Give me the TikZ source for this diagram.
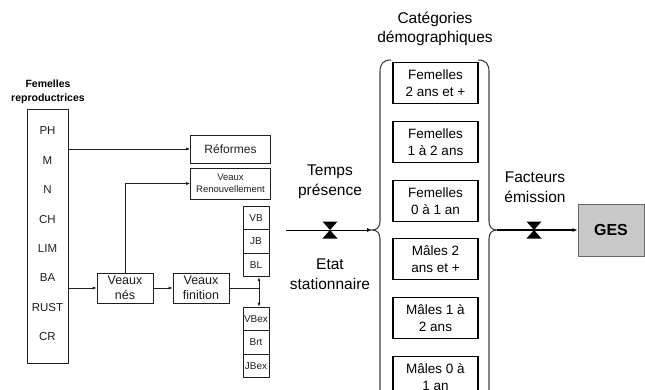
\documentclass[tikz,border=0pt]{standalone}
\usepackage{fontspec}
\setmainfont{Liberation Sans}
\usetikzlibrary{arrows.meta}
\definecolor{gesfill}{RGB}{200,200,200}
\definecolor{ink}{RGB}{30,30,30}
\begin{document}
\begin{tikzpicture}[x=1pt,y=-1pt,
  box/.style={draw=ink, line width=0.7pt, inner sep=0pt, align=center, text=ink},
  cell/.style={box, minimum width=26pt, minimum height=23.6pt, font=\fontsize{10}{12}\selectfont},
  cat/.style={draw=black, line width=1.1pt, minimum width=85pt, minimum height=41pt, inner sep=0pt, align=center, font=\fontsize{13.5}{17}\selectfont},
  lbl/.style={align=center, font=\fontsize{15.5}{19.5}\selectfont, inner sep=0pt},
  flbl/.style={inner sep=0pt, font=\fontsize{11.5}{13}\selectfont, text=ink},
  arr/.style={-{Latex[length=4pt,width=3pt]}, line width=0.7pt, draw=ink},
  bigarr/.style={-{Latex[length=5pt,width=4pt]}, line width=1.2pt},
  brace/.style={draw=black!75, line width=1.1pt},
  valve/.style={fill=black}
]
\useasboundingbox (0,0) rectangle (645,389);
\clip (0,0) rectangle (645,389);

% Femelles reproductrices
\node[inner sep=0pt, font=\bfseries\fontsize{10.5}{14}\selectfont, align=center] (femt) at (48,92) {Femelles\\reproductrices};
\node[box, minimum width=41pt, minimum height=254pt] (fem) at (47.5,236) {};
\foreach \t [count=\i from 0] in {PH,M,N,CH,LIM,BA,RUST,CR}
  \node[flbl] (f\i) at (47.5,{131+29.4*\i}) {\t};

% calves
\node[box, minimum width=80pt, minimum height=28pt, font=\fontsize{12}{14}\selectfont] (ref) at (230.5,149) {Réformes};
\node[box, minimum width=80pt, minimum height=31pt, font=\fontsize{9.5}{12}\selectfont] (ren) at (230.5,183.5) {Veaux\\Renouvellement};
\node[box, minimum width=56pt, minimum height=30pt, font=\fontsize{12.5}{15}\selectfont] (nes) at (125,288) {Veaux\\nés};
\node[box, minimum width=56pt, minimum height=30pt, font=\fontsize{12.5}{15}\selectfont] (fin) at (201,288) {Veaux\\finition};

\node[cell] (vb) at (256,218) {VB};
\node[cell] (jb) at (256,241.5) {JB};
\node[cell] (bl) at (256,265) {BL};
\node[cell] (vbex) at (256,318.8) {VBex};
\node[cell] (brt) at (256,342.4) {Brt};
\node[cell] (jbex) at (256,366) {JBex};

\draw[arr] (fem.east |- ref.west) -- (ref.west);
\draw[arr] (fem.east |- nes.west) -- (nes.west);
\draw[arr] (nes.north) |- (ren.west);
\draw[arr] (nes.east) -- (fin.west);
\coordinate (j) at (259,288);
\draw[line width=0.7pt, draw=ink] (fin.east) -- (j);
\draw[arr] (j) -- (j |- bl.south);
\draw[arr] (j) -- (j |- vbex.north);

% middle arrow with valve
\coordinate (s1) at (286,230);
\coordinate (lc) at (372,230);
\draw[bigarr, line width=1pt] (s1) -- (lc);
\coordinate (v1) at (330,230);
\fill[valve] (v1) ++(-7.5,-8.5) -- ++(15,0) -- ++(-15,17) -- ++(15,0) -- cycle;
\node[lbl] (temps) at (330,182) {Temps\\présence};
\node[lbl] (etat) at (330,274) {Etat\\stationnaire};

% categories
\node[lbl] (catt) at (435,29) {Catégories\\démographiques};
\node[cat] (c1) at (435.5,83) {Femelles\\2 ans et +};
\node[cat] (c2) at (435.5,142) {Femelles\\1 à 2 ans};
\node[cat] (c3) at (435.5,201) {Femelles\\0 à 1 an};
\node[cat] (c4) at (435.5,259) {Mâles 2\\ans et +};
\node[cat] (c5) at (435.5,318) {Mâles 1 à\\2 ans};
\node[cat] (c6) at (435.5,377) {Mâles 0 à\\1 an};

% braces
\draw[brace] (391,60) .. controls (383,60) and (380,64) .. (380,72) -- (380,221)
  .. controls (380,227) and (377,230) .. (372,230) .. controls (377,230) and (380,233) .. (380,239) -- (380,400);
\coordinate (rc) at (497,230);
\draw[brace] (478,60) .. controls (486,60) and (489,64) .. (489,72) -- (489,221)
  .. controls (489,227) and (492,230) .. (rc) .. controls (492,230) and (489,233) .. (489,239) -- (489,400);

% GES
\node[draw=black!60, line width=0.8pt, fill=gesfill, minimum width=66pt, minimum height=52pt, inner sep=0pt,
  font=\bfseries\fontsize{16}{18}\selectfont] (ges) at (611,230) {GES};
\draw[bigarr] (rc) -- (ges.west);
\coordinate (v2) at (534,230);
\fill[valve] (v2) ++(-7.5,-8.5) -- ++(15,0) -- ++(-15,17) -- ++(15,0) -- cycle;
\node[lbl] (fact) at (535,187) {Facteurs\\émission};
\end{tikzpicture}
\end{document}
